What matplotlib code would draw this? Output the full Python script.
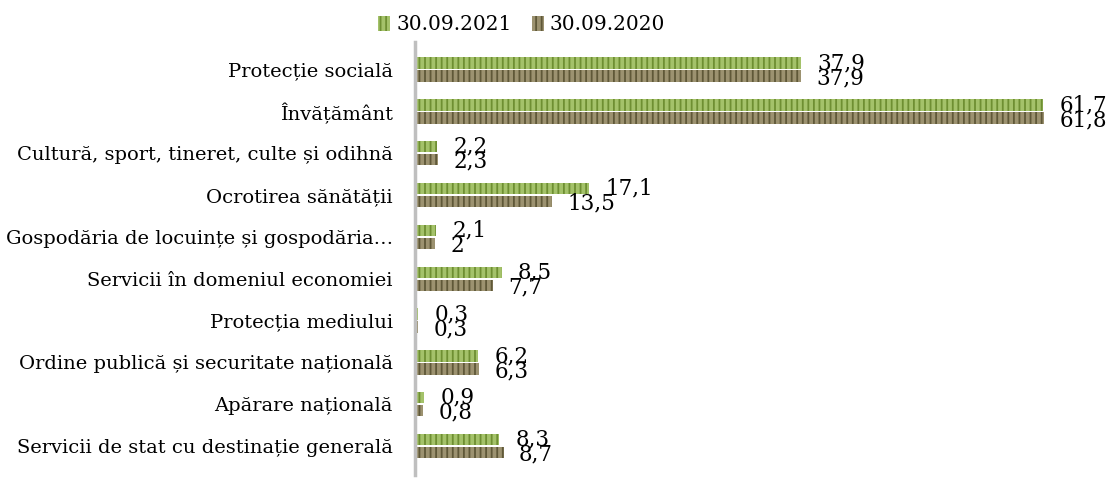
import matplotlib.pyplot as plt
import numpy as np

categories = [
    "Servicii de stat cu destinație generală",
    "Apărare națională",
    "Ordine publică și securitate națională",
    "Protecția mediului",
    "Servicii în domeniul economiei",
    "Gospodăria de locuințe și gospodăria…",
    "Ocrotirea sănătății",
    "Cultură, sport, tineret, culte și odihnă",
    "Învățământ",
    "Protecție socială",
]
v2021 = [8.3, 0.9, 6.2, 0.3, 8.5, 2.1, 17.1, 2.2, 61.7, 37.9]
v2020 = [8.7, 0.8, 6.3, 0.3, 7.7, 2, 13.5, 2.3, 61.8, 37.9]
labels2021 = ["8,3", "0,9", "6,2", "0,3", "8,5", "2,1", "17,1", "2,2", "61,7", "37,9"]
labels2020 = ["8,7", "0,8", "6,3", "0,3", "7,7", "2", "13,5", "2,3", "61,8", "37,9"]

plt.rcParams['font.family'] = ['DejaVu Serif']
plt.rcParams['hatch.linewidth'] = 1.3

fig = plt.figure(figsize=(11.1, 4.91), dpi=100)
ax = fig.add_axes([415 / 1110, 1 - 475 / 491, 685 / 1110, 433 / 491])

y = np.arange(len(categories))
h = 0.27
off = 0.155

b1 = ax.barh(y + off, v2021, height=h, color='#A4C26A', edgecolor='#6E8F32',
             linewidth=0, hatch='|||', label='30.09.2021')
b2 = ax.barh(y - off, v2020, height=h, color='#9C9270', edgecolor='#5F5838',
             linewidth=0, hatch='|||', label='30.09.2020')

for yi, v, t in zip(y, v2021, labels2021):
    ax.text(v + 1.6, yi + off + 0.0, t, va='center', ha='left', fontsize=15.5)
for yi, v, t in zip(y, v2020, labels2020):
    ax.text(v + 1.5, yi - off - 0.05, t, va='center', ha='left', fontsize=15.5)

ax.set_xlim(0, 67.3)
ax.set_ylim(-0.69, 9.66)
ax.set_yticks(y)
ax.set_yticklabels(categories, fontsize=14)
ax.tick_params(axis='y', length=0, pad=16)
ax.set_xticks([])
for s in ['top', 'right', 'bottom']:
    ax.spines[s].set_visible(False)
ax.spines['left'].set_color('#BFBFBF')
ax.spines['left'].set_linewidth(2.5)

fig.legend(handles=[b1, b2], loc='center', bbox_to_anchor=(0.47, 1 - 25 / 491),
           ncol=2, frameon=False, fontsize=14.5, handlelength=0.6, handleheight=0.7,
           handletextpad=0.3, columnspacing=1.0)

fig.savefig('out.png', dpi=100)
